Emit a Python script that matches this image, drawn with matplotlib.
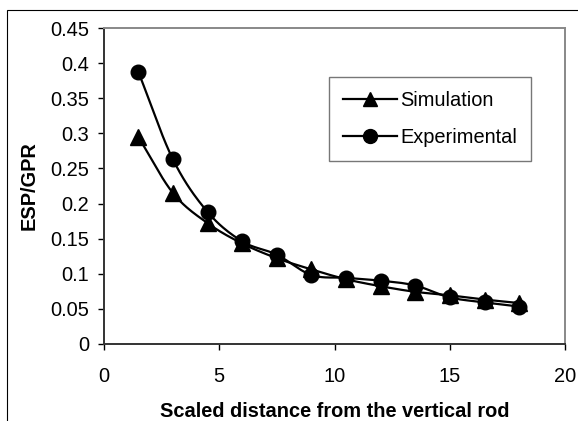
import numpy as np
import matplotlib
matplotlib.use("Agg")
import matplotlib.pyplot as plt
from matplotlib.lines import Line2D
from matplotlib.patches import Rectangle

plt.rcParams["font.family"] = ["Liberation Sans", "DejaVu Sans"]

distance = [1.5, 3, 4.5, 6, 7.5, 9, 10.5, 12, 13.5, 15, 16.5, 18]
simulation = [0.295, 0.215, 0.172, 0.143, 0.122, 0.106, 0.092, 0.082, 0.074, 0.069, 0.063, 0.058]
experimental = [0.388, 0.263, 0.188, 0.146, 0.127, 0.098, 0.094, 0.090, 0.083, 0.066, 0.059, 0.053]
x_ticks = [0, 5, 10, 15, 20]
y_ticks = [0, 0.05, 0.1, 0.15, 0.2, 0.25, 0.3, 0.35, 0.4, 0.45]

FS = 14.4


def smooth(x, y, n=20):
    # Catmull-Rom through the points, like Excel's smoothed line
    p = np.column_stack([x, y])
    p = np.vstack([2 * p[0] - p[1], p, 2 * p[-1] - p[-2]])
    out = []
    t = np.linspace(0, 1, n, endpoint=False)[:, None]
    for i in range(1, len(p) - 2):
        p0, p1, p2, p3 = p[i - 1], p[i], p[i + 1], p[i + 2]
        seg = 0.5 * ((2 * p1) + (-p0 + p2) * t
                     + (2 * p0 - 5 * p1 + 4 * p2 - p3) * t ** 2
                     + (-p0 + 3 * p1 - 3 * p2 + p3) * t ** 3)
        out.append(seg)
    out.append(p[-2][None, :])
    out = np.vstack(out)
    return out[:, 0], out[:, 1]


W, H = 578, 421
fig = plt.figure(figsize=(W / 100, H / 100), dpi=100)
# outer chart frame (right and bottom edges are cut off in the original)
fig.patches.append(Rectangle((7 / W, -0.1), 1.2, 1.1 - 10 / H, transform=fig.transFigure,
                             fill=False, edgecolor="black", linewidth=0.8))
x0, x1, y0, y1 = 103.7, 565.3, 28.3, 343.7
ax = fig.add_axes([x0 / W, 1 - y1 / H, (x1 - x0) / W, (y1 - y0) / H])

sx, sy = smooth(distance, simulation)
ex, ey = smooth(distance, experimental)
ax.plot(sx, sy, color="black", lw=1.6, zorder=3)
ax.plot(ex, ey, color="black", lw=1.6, zorder=3)
ax.plot(distance, simulation, ls="none", marker="^", ms=11, color="black", zorder=4)
ax.plot(distance, experimental, ls="none", marker="o", ms=10.5, color="black", zorder=4)

ax.set_xlim(0, 20)
ax.set_ylim(0, 0.45)
ax.set_xticks(x_ticks)
ax.set_yticks(y_ticks)
ax.set_xticklabels([str(v) for v in x_ticks])
ax.set_yticklabels([("%g" % v) for v in y_ticks])
ax.tick_params(direction="out", length=4.5, width=1, labelsize=FS, colors="black")
ax.tick_params(axis="y", pad=6)
ax.tick_params(axis="x", pad=12)
for side in ["left", "bottom"]:
    ax.spines[side].set_color("#333333")
    ax.spines[side].set_linewidth(1.4)
for side in ["top", "right"]:
    ax.spines[side].set_color("#888888")
    ax.spines[side].set_linewidth(1.4)

ax.set_xlabel("Scaled distance from the vertical rod", fontsize=FS, fontweight="bold", labelpad=12)
ax.set_ylabel("ESP/GPR", fontsize=FS, fontweight="bold", labelpad=8)

handles = [Line2D([], [], color="black", lw=1.6, marker="^", ms=10.5),
           Line2D([], [], color="black", lw=1.6, marker="o", ms=10)]
leg = ax.legend(handles, ["Simulation", "Experimental"], loc="upper left",
                bbox_to_anchor=((329.3 - x0) / (x1 - x0), (y1 - 77.3) / (y1 - y0)),
                fontsize=FS, frameon=True, fancybox=False, handlelength=2.7,
                handletextpad=0.15, borderpad=0.7, labelspacing=0.9, borderaxespad=0)
leg.get_frame().set_edgecolor("#555555")
leg.get_frame().set_linewidth(1.0)

fig.savefig("out.png", dpi=100)
